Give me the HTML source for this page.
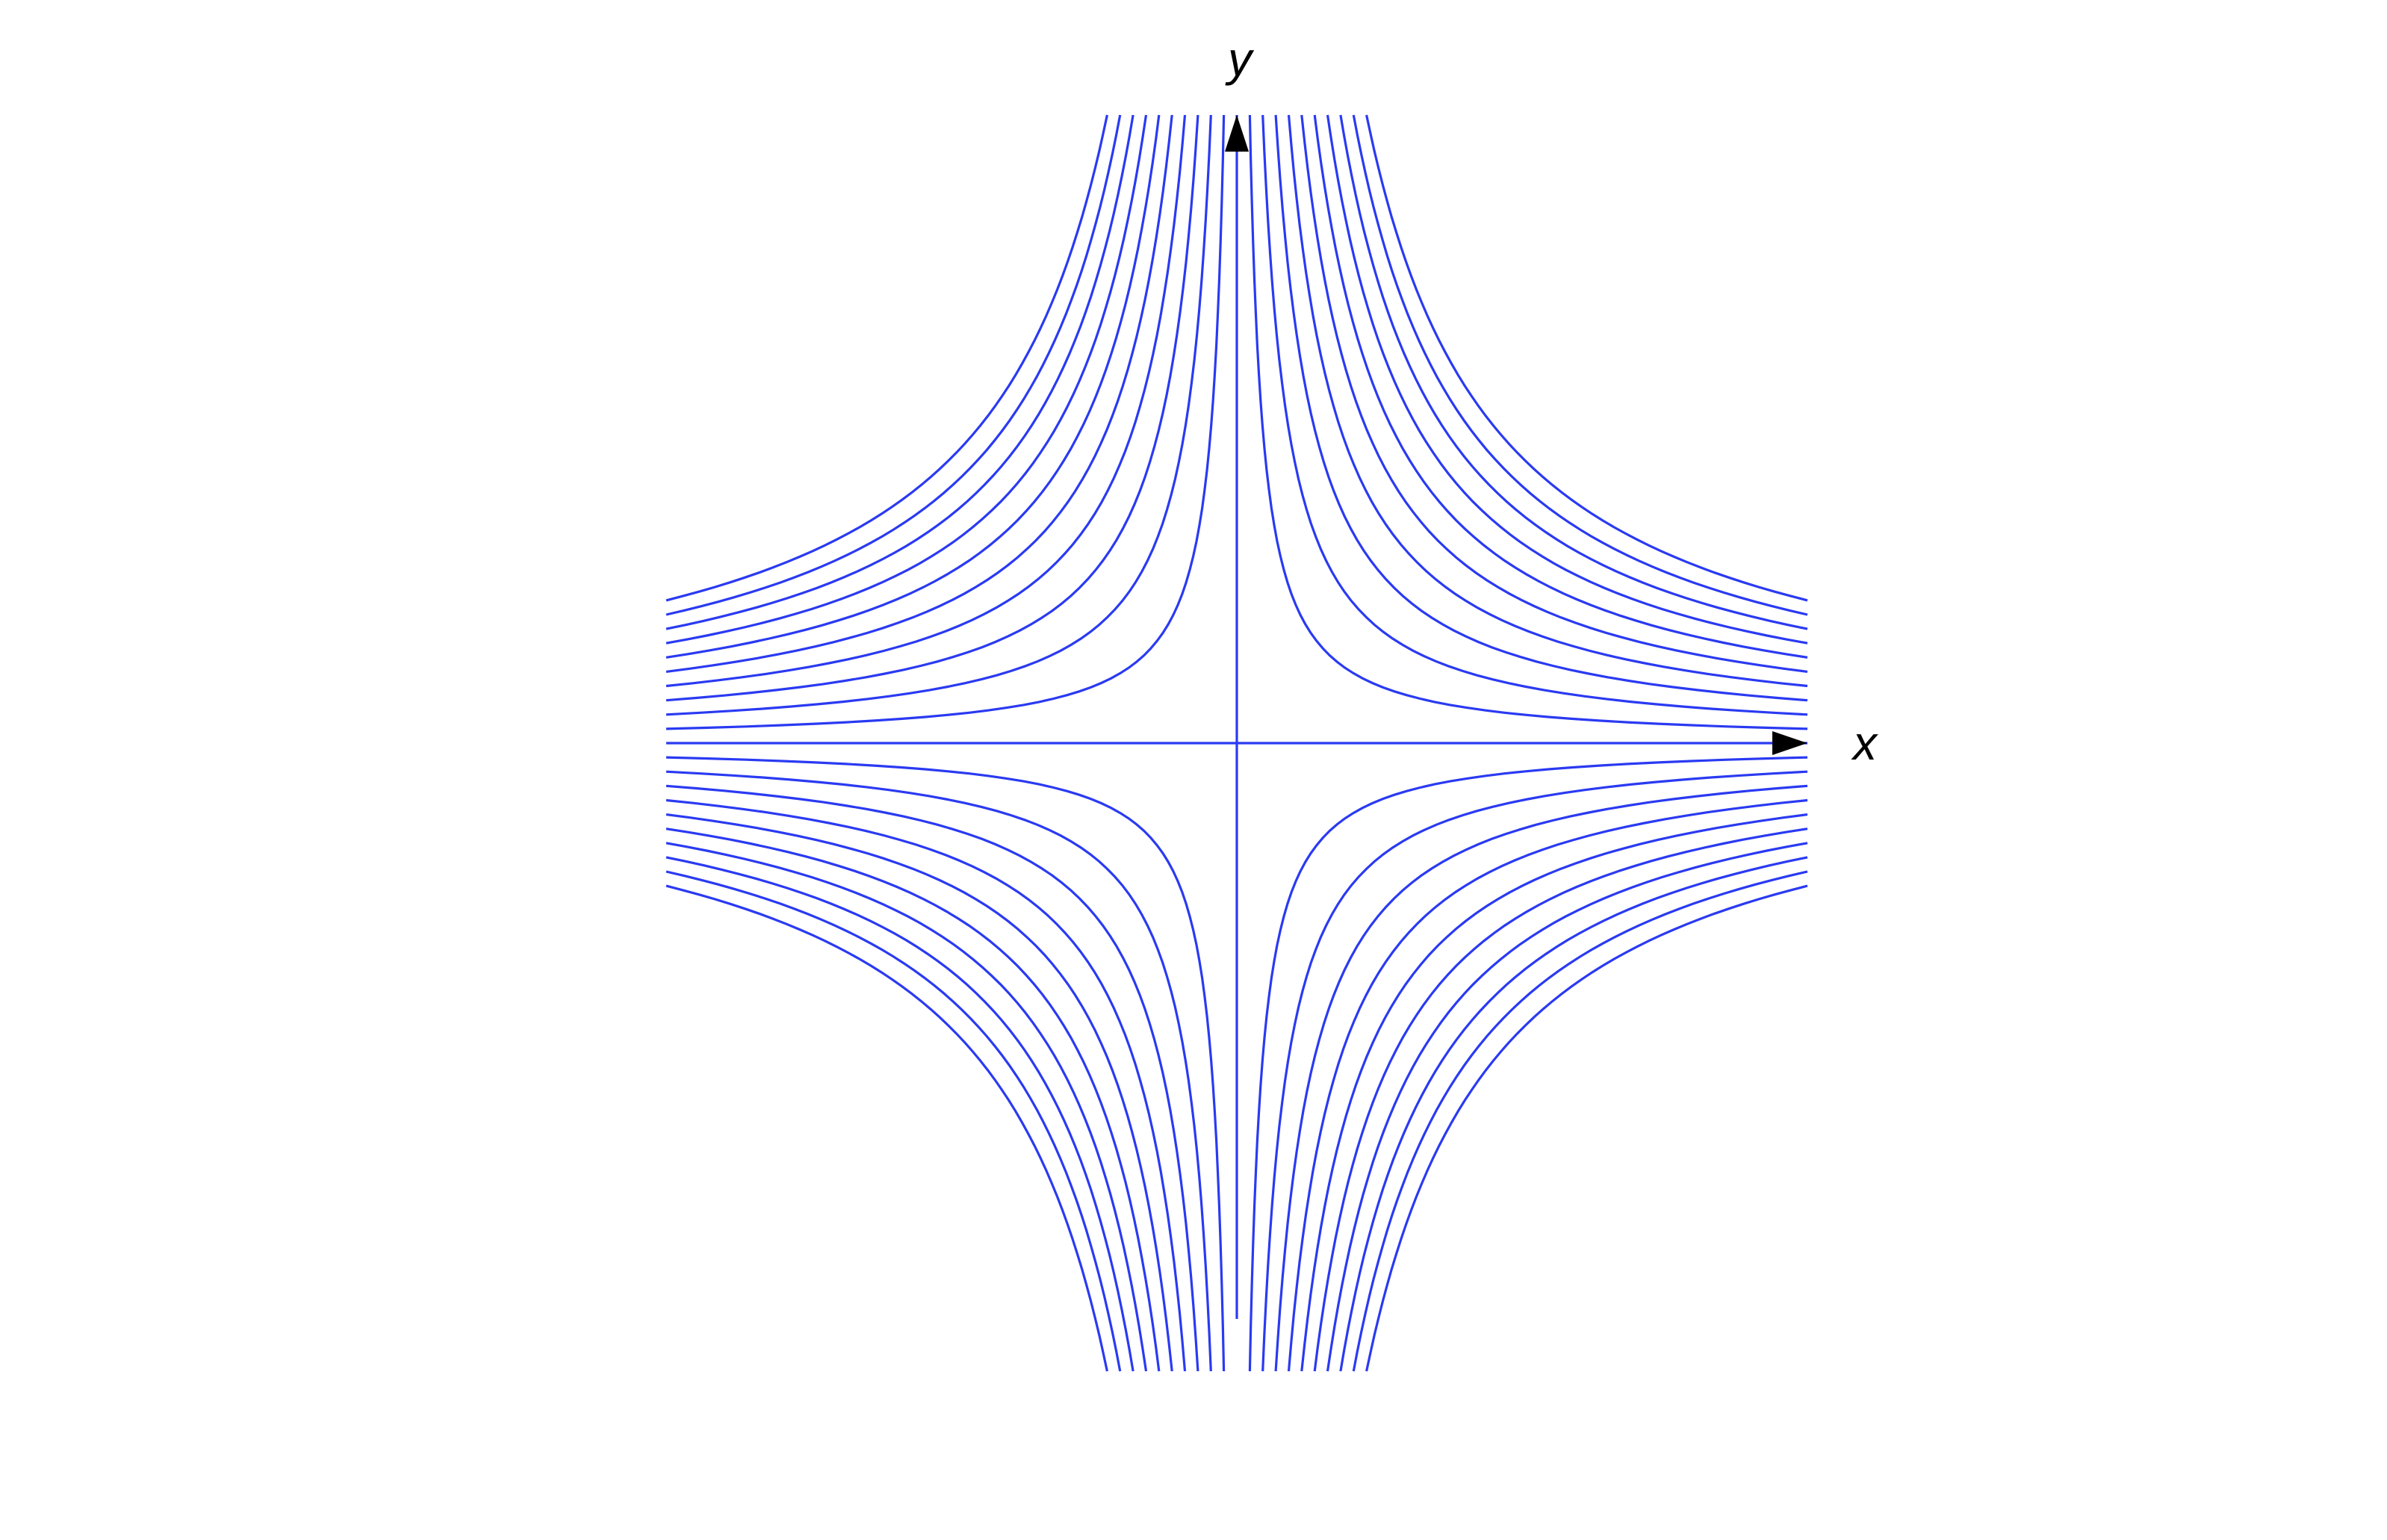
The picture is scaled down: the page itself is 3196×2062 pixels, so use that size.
<!DOCTYPE html>
<html>
<head>
<meta charset="utf-8">
<style>
html,body{margin:0;padding:0;background:#fff;}
svg{display:block;}
text{font-family:"Liberation Sans","DejaVu Sans",sans-serif;font-style:italic;}
</style>
</head>
<body>
<svg id="chart" width="3196" height="2062" viewBox="0 0 3196 2062" xmlns="http://www.w3.org/2000/svg">
  <g id="curves"></g>
  <g id="axes"></g>
</svg>
<script>
// data: hyperbolic streamlines x*y = ±c
const levels = [0.025, 0.05, 0.075, 0.1, 0.125, 0.15, 0.175, 0.2, 0.225, 0.25];
const xDomain = [-1, 1];
const yDomain = [-1.1, 1.1];
const axisLabels = ["x", "y"];

const cx = 1656, cy = 995, halfW = 764, halfH = 841;
const sx = v => cx + v / xDomain[1] * halfW;
const sy = v => cy - v / yDomain[1] * halfH;
const NS = "http://www.w3.org/2000/svg";
const color = "#2a3af2";
const curves = document.getElementById('curves');
const axes = document.getElementById('axes');

function branch(c, sxSign, sySign) {
  const xmin = c / yDomain[1], xmax = xDomain[1];
  const n = 50, pts = [];
  for (let i = 0; i <= n; i++) {
    const x = xmin * Math.pow(xmax / xmin, i / n);
    const y = c / x;
    pts.push(sx(sxSign * x).toFixed(1) + "," + sy(sySign * y).toFixed(1));
  }
  const p = document.createElementNS(NS, 'polyline');
  p.setAttribute('points', pts.join(' '));
  p.setAttribute('fill', 'none');
  p.setAttribute('stroke', color);
  p.setAttribute('stroke-width', '3.2');
  
  
  curves.appendChild(p);
}
levels.forEach(c => {
  branch(c, 1, 1); branch(c, -1, 1); branch(c, 1, -1); branch(c, -1, -1);
});

function line(x1, y1, x2, y2, name) {
  const l = document.createElementNS(NS, 'line');
  l.setAttribute('x1', x1); l.setAttribute('y1', y1);
  l.setAttribute('x2', x2); l.setAttribute('y2', y2);
  l.setAttribute('stroke', color);
  l.setAttribute('stroke-width', '3.2');
  
  
  axes.appendChild(l);
}
line(sx(xDomain[0]), cy, sx(xDomain[1]), cy, 'x-axis-line');
line(cx, sy(yDomain[1]), cx, 1766, 'y-axis-line');

function poly(points, name) {
  const p = document.createElementNS(NS, 'polygon');
  p.setAttribute('points', points);
  p.setAttribute('fill', '#000');
  
  
  axes.appendChild(p);
}
const xe = sx(xDomain[1]), yt = sy(yDomain[1]);
poly(`${xe},${cy} ${xe-47},${cy-16} ${xe-47},${cy+16}`, 'x-axis-arrow');
poly(`${cx},${yt} ${cx-16},${yt+49} ${cx+16},${yt+49}`, 'y-axis-arrow');

function label(txt, x, y, name) {
  const t = document.createElementNS(NS, 'text');
  t.setAttribute('x', x); t.setAttribute('y', y);
  t.setAttribute('font-size', '64');
  t.setAttribute('text-anchor', 'middle');
  t.setAttribute('fill', '#000');
  
  
  t.textContent = txt;
  axes.appendChild(t);
}
label(axisLabels[0], 2497, 1017, 'x-axis-title');
label(axisLabels[1], 1660, 101, 'y-axis-title');
</script>
</body>
</html>
